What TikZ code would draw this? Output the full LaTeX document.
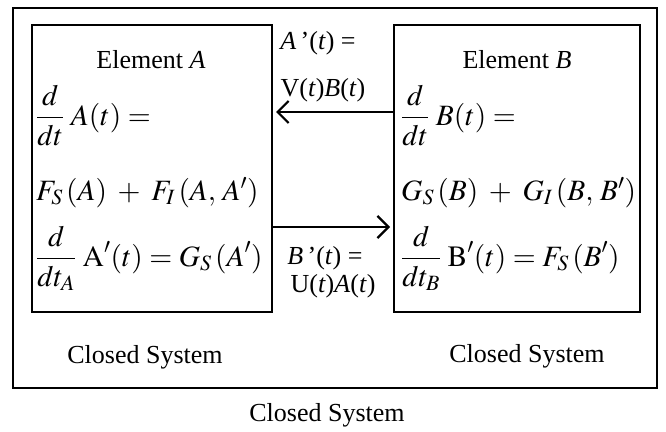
\documentclass[tikz,border=0pt]{standalone}
\usepackage{mathptmx}
\usepackage{fontspec}
\setmainfont{Liberation Serif}
\usetikzlibrary{arrows.meta}
\begin{document}
\begin{tikzpicture}[x=1pt,y=-1pt,
  boxrect/.style={draw, line width=1.3pt, inner sep=0pt},
  eqn/.style={anchor=base west, inner sep=0pt, font=\fontsize{29.5}{33}\selectfont},
  txt/.style={anchor=base, inner sep=0pt, font=\fontsize{26}{30}\selectfont},
  flow/.style={line width=2.2pt, -{Straight Barb[length=11pt,width=22pt,line width=2.2pt]}}]
\useasboundingbox (0,0) rectangle (666,431);
\node[boxrect, line width=1.8pt, minimum width=644pt, minimum height=380pt] (outer) at (335,198) {};
\node[boxrect, minimum width=240pt, minimum height=287pt] (boxA) at (152,168.5) {};
\node[boxrect, minimum width=246pt, minimum height=287pt] (boxB) at (517,168.5) {};
% element A
\node[txt] (titleA) at (151,68) {Element \textit{A}};
\node[eqn] (a1) at (36,125) {$\displaystyle\frac{d}{dt}\;A(t) =$};
\node[eqn] (a2) at (36,200) {$F_S\,(A)\;+\;F_I\,(A,\,A')$};
\node[eqn] (a3) at (36,266) {$\displaystyle\frac{d}{dt_A}\;\mathrm{A}'(t) = G_S\,(A')$};
% element B
\node[txt] (titleB) at (517,68) {Element \textit{B}};
\node[eqn] (b1) at (401,125) {$\displaystyle\frac{d}{dt}\;B(t) =$};
\node[eqn] (b2) at (401,200) {$G_S\,(B)\;+\;G_I\,(B,\,B')$};
\node[eqn] (b3) at (401,266) {$\displaystyle\frac{d}{dt_B}\;\mathrm{B}'(t) = F_S\,(B')$};
% labels
\node[txt] (la1) at (318,49) {\textit{A}\,’(\textit{t}) =};
\node[txt] (la2) at (323,96) {V(\textit{t})\textit{B}(\textit{t})};
\node[txt] (lb1) at (325,264) {\textit{B}\,’(\textit{t}) =};
\node[txt] (lb2) at (333,292) {U(\textit{t})\textit{A}(\textit{t})};
% closed systems
\node[txt] (csA) at (145,363) {Closed System};
\node[txt] (csB) at (527,362) {Closed System};
\node[txt] (csO) at (327,421) {Closed System};
% arrows
\coordinate (t1) at (276,112);
\coordinate (t2) at (390,227);
\draw[flow] (boxB.west |- t1) -- (t1);
\draw[flow] (boxA.east |- t2) -- (t2);
\end{tikzpicture}
\end{document}
